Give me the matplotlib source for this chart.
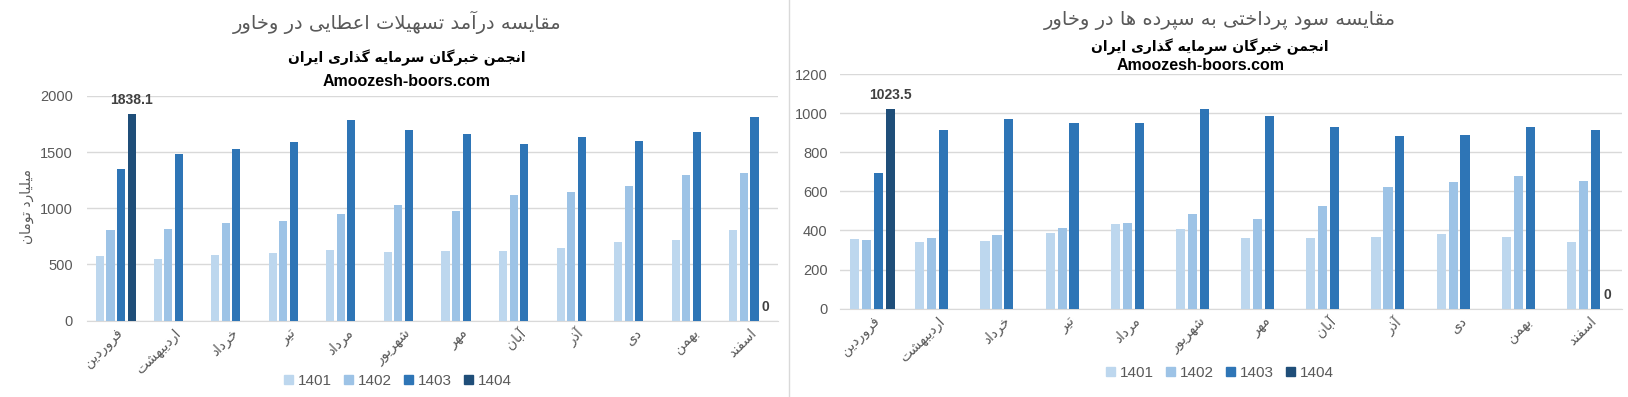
import numpy as np
import matplotlib
matplotlib.use("Agg")
import matplotlib.pyplot as plt
from matplotlib.lines import Line2D
from matplotlib.patches import Patch

############################################################ DATA
months = ["فروردین", "اردیبهشت", "خرداد", "تیر", "مرداد", "شهریور",
          "مهر", "آبان", "آذر", "دی", "بهمن", "اسفند"]
years = ["1401", "1402", "1403", "1404"]

# left chart : loan income (billion toman)
income_1401 = [576, 549, 585, 603, 630, 612, 620, 620, 647, 701, 719, 808]
income_1402 = [808, 817, 871, 889, 951, 1031, 978, 1121, 1147, 1201, 1299, 1317]
income_1403 = [1353, 1487, 1532, 1594, 1782, 1701, 1665, 1575, 1638, 1603, 1683, 1817]
income_1404 = [1838.1, 0, 0, 0, 0, 0, 0, 0, 0, 0, 0, 0]

# right chart : profit paid to deposits
deposit_1401 = [357, 342, 347, 388, 434, 409, 362, 362, 368, 383, 368, 342]
deposit_1402 = [352, 363, 378, 414, 439, 486, 460, 527, 624, 650, 681, 655]
deposit_1403 = [696, 916, 968, 952, 952, 1019, 983, 931, 885, 890, 927, 916]
deposit_1404 = [1023.5, 0, 0, 0, 0, 0, 0, 0, 0, 0, 0, 0]

title_left = "مقایسه درآمد تسهیلات اعطایی در وخاور"
title_right = "مقایسه سود پرداختی به سپرده ها در وخاور"
subtitle = "انجمن خبرگان سرمایه گذاری ایران"
site = "Amoozesh-boors.com"
ylabel_left = "میلیارد تومان"

############################################################ persian shaping
# matplotlib has no arabic shaping, so map letters to presentation forms
# forms: isolated, final, initial, medial (None = right joining only)
FORMS = {
    "ا": ("\uFE8D", "\uFE8E", None, None),
    "آ": ("\uFE81", "\uFE82", None, None),
    "ب": ("\uFE8F", "\uFE90", "\uFE91", "\uFE92"),
    "پ": ("\uFB56", "\uFB57", "\uFB58", "\uFB59"),
    "ت": ("\uFE95", "\uFE96", "\uFE97", "\uFE98"),
    "ث": ("\uFE99", "\uFE9A", "\uFE9B", "\uFE9C"),
    "ج": ("\uFE9D", "\uFE9E", "\uFE9F", "\uFEA0"),
    "چ": ("\uFB7A", "\uFB7B", "\uFB7C", "\uFB7D"),
    "ح": ("\uFEA1", "\uFEA2", "\uFEA3", "\uFEA4"),
    "خ": ("\uFEA5", "\uFEA6", "\uFEA7", "\uFEA8"),
    "د": ("\uFEA9", "\uFEAA", None, None),
    "ذ": ("\uFEAB", "\uFEAC", None, None),
    "ر": ("\uFEAD", "\uFEAE", None, None),
    "ز": ("\uFEAF", "\uFEB0", None, None),
    "ژ": ("\uFB8A", "\uFB8B", None, None),
    "س": ("\uFEB1", "\uFEB2", "\uFEB3", "\uFEB4"),
    "ش": ("\uFEB5", "\uFEB6", "\uFEB7", "\uFEB8"),
    "ص": ("\uFEB9", "\uFEBA", "\uFEBB", "\uFEBC"),
    "ض": ("\uFEBD", "\uFEBE", "\uFEBF", "\uFEC0"),
    "ط": ("\uFEC1", "\uFEC2", "\uFEC3", "\uFEC4"),
    "ظ": ("\uFEC5", "\uFEC6", "\uFEC7", "\uFEC8"),
    "ع": ("\uFEC9", "\uFECA", "\uFECB", "\uFECC"),
    "غ": ("\uFECD", "\uFECE", "\uFECF", "\uFED0"),
    "ف": ("\uFED1", "\uFED2", "\uFED3", "\uFED4"),
    "ق": ("\uFED5", "\uFED6", "\uFED7", "\uFED8"),
    "ک": ("\uFB8E", "\uFB8F", "\uFB90", "\uFB91"),
    "گ": ("\uFB92", "\uFB93", "\uFB94", "\uFB95"),
    "ل": ("\uFEDD", "\uFEDE", "\uFEDF", "\uFEE0"),
    "م": ("\uFEE1", "\uFEE2", "\uFEE3", "\uFEE4"),
    "ن": ("\uFEE5", "\uFEE6", "\uFEE7", "\uFEE8"),
    "و": ("\uFEED", "\uFEEE", None, None),
    "ه": ("\uFEE9", "\uFEEA", "\uFEEB", "\uFEEC"),
    "ی": ("\uFBFC", "\uFBFD", "\uFBFE", "\uFBFF"),
}
LAM_ALEF = {"ا": ("\uFEFB", "\uFEFC"), "آ": ("\uFEF5", "\uFEF6")}


def fa(s):
    out = []
    i = 0
    n = len(s)
    while i < n:
        c = s[i]
        if c not in FORMS:
            out.append(c)
            i += 1
            continue
        prev = s[i - 1] if i > 0 else ""
        joins_prev = prev in FORMS and FORMS[prev][2] is not None
        if c == "ل" and i + 1 < n and s[i + 1] in LAM_ALEF:
            out.append(LAM_ALEF[s[i + 1]][1 if joins_prev else 0])
            i += 2
            continue
        nxt = s[i + 1] if i + 1 < n else ""
        joins_next = FORMS[c][2] is not None and nxt in FORMS
        f = FORMS[c]
        if joins_prev and joins_next:
            out.append(f[3])
        elif joins_prev:
            out.append(f[1])
        elif joins_next:
            out.append(f[2])
        else:
            out.append(f[0])
        i += 1
    return "".join(out)[::-1]


############################################################ STYLE
colors = ["#BDD7EE", "#9DC3E6", "#2E75B6", "#1F4E79"]
gray = "#595959"
grid_c = "#D9D9D9"
# numbers in Liberation Sans, persian text in DejaVu Sans
plt.rcParams["font.family"] = ["Liberation Sans", "DejaVu Sans"]
FA = "DejaVu Sans"

fig = plt.figure(figsize=(16.28, 3.97), dpi=100)
W, H = 1628.0, 397.0


def fx(px):
    return px / W


def fy(py):
    return 1 - py / H


def bar_chart(ax, series, ymax, ystep, ypad):
    x = np.arange(len(months))
    pitch = 0.183
    for i, vals in enumerate(series):
        ax.bar(x + (i - 1.5) * pitch, vals, width=0.14, color=colors[i], zorder=3)
    # labels on first and last point of 1404
    last = series[3]
    for k in [0, len(last) - 1]:
        ax.annotate(("%g" % last[k]), (x[k] + 1.5 * pitch, last[k]), xytext=(0, 5),
                    textcoords="offset points", ha="center", va="bottom",
                    fontsize=10, fontweight="bold", color="#404040")
    ax.set_xlim(-0.5, len(months) - 0.5)
    ax.set_ylim(0, ymax)
    ax.set_yticks(np.arange(0, ymax + 1, ystep))
    ax.grid(axis="y", color=grid_c, lw=1, zorder=0)
    for sp in ["top", "right", "left"]:
        ax.spines[sp].set_visible(False)
    ax.spines["bottom"].set_color(grid_c)
    ax.tick_params(axis="y", length=0, pad=ypad, labelsize=10.5, labelcolor=gray)
    ax.tick_params(axis="x", length=0, pad=4, labelsize=10, labelcolor=gray)
    ax.set_xticks(x)
    ax.set_xticklabels([fa(m) for m in months], rotation=45, ha="right",
                       rotation_mode="anchor", family=FA)


############################## LEFT
ax1 = fig.add_axes([fx(87), fy(320.5), fx(778 - 87), (320.5 - 96) / H])
bar_chart(ax1, [income_1401, income_1402, income_1403, income_1404], 2000, 500, 10)
fig.text(fx(27), fy(207), fa(ylabel_left), rotation=90, ha="center", va="center",
         fontsize=10, color=gray, family=FA)
fig.text(fx(397), fy(22), fa(title_left), ha="center", va="center", fontsize=14,
         color=gray, family=FA)
fig.text(fx(407), fy(58), fa(subtitle), ha="center", va="center", fontsize=10,
         fontweight="bold", color="black", family=FA)
fig.text(fx(407), fy(81), site, ha="center", va="center", fontsize=11.5,
         fontweight="bold", color="black")

############################## RIGHT
ax2 = fig.add_axes([fx(840), fy(308.7), fx(1622 - 840), (308.7 - 74) / H])
bar_chart(ax2, [deposit_1401, deposit_1402, deposit_1403, deposit_1404], 1200, 200, 9)
fig.text(fx(1220), fy(20), fa(title_right), ha="center", va="center", fontsize=14,
         color=gray, family=FA)
fig.text(fx(1210), fy(47), fa(subtitle), ha="center", va="center", fontsize=10,
         fontweight="bold", color="black", family=FA)
fig.text(fx(1201), fy(65), site, ha="center", va="center", fontsize=11.5,
         fontweight="bold", color="black")

# legends
handles = [Patch(color=c) for c in colors]
for cx, cy in [(398, 381), (1220, 373)]:
    fig.legend(handles, years, loc="center", bbox_to_anchor=(fx(cx), fy(cy)), ncol=4,
               frameon=False, fontsize=11, labelcolor=gray, handlelength=0.6,
               handleheight=0.6, handletextpad=0.3, columnspacing=0.8)

# separator between the two charts
fig.add_artist(Line2D([fx(789), fx(789)], [0, 1], color=grid_c, lw=1))

fig.savefig("out.png", dpi=100)
